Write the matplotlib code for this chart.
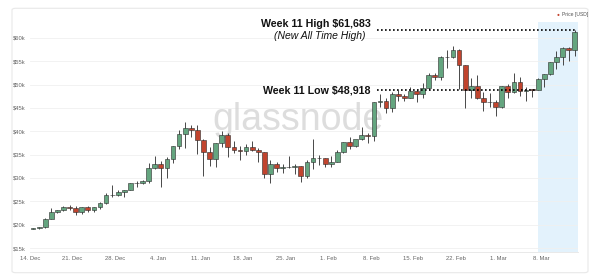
import pandas as pd
import matplotlib.pyplot as plt
import matplotlib.dates as mdates
from matplotlib.patches import FancyBboxPatch

# ------------------------------------------
# Data: BTC daily candles, 14 Dec 2020 - 13 Mar 2021
# ------------------------------------------

dates = pd.date_range("2020-12-14", "2021-03-13", freq="D")

opens = [19144, 19246, 19418, 21310, 22806, 23132, 23870, 23478, 22803, 23783,
         23241, 23736, 24665, 26437, 26273, 27039, 27373, 28857, 28983, 29393,
         32195, 33000, 32035, 34047, 36860, 39486, 40670, 40240, 38240, 35545,
         34012, 37393, 39145, 36742, 36026, 35800, 36631, 35891, 35468, 30850,
         32945, 32078, 32259, 32254, 32467, 30366, 33364, 34252, 34262, 33092,
         33526, 35466, 37618, 36936, 38290, 39186, 38903, 46196, 46481, 44918,
         47909, 47504, 47105, 48717, 47945, 49200, 52150, 51679, 55888, 55887,
         57412, 54204, 48824, 49705, 47093, 46339, 46188, 45137, 49631, 48378,
         50538, 48561, 48927, 48912, 51206, 52246, 54824, 56008, 57805, 57332]

highs = [19305, 19525, 21458, 23642, 23238, 24085, 24209, 24059, 23838, 24100,
         23768, 24789, 26867, 28422, 27389, 27371, 28937, 29298, 29601, 33300,
         34778, 33600, 34437, 36939, 40365, 41950, 41380, 41350, 38264, 36568,
         37600, 40100, 39700, 37950, 36852, 37299, 37850, 36415, 35600, 33826,
         33456, 32944, 34802, 32921, 32557, 33858, 38406, 34876, 34288, 34638,
         35896, 37662, 38708, 38225, 40846, 39700, 46203, 48003, 47145, 48463,
         48745, 48047, 49487, 49010, 50341, 52533, 52474, 56113, 57506, 58330,
         57534, 54204, 51359, 52041, 48370, 48253, 46716, 49791, 50128, 52535,
         51735, 49395, 49147, 51384, 52314, 54824, 57258, 58045, 58058, 61683]

lows = [19012, 19079, 19298, 21234, 22399, 22826, 23147, 22159, 22353, 22810,
        22777, 23463, 24500, 25856, 26207, 25987, 27360, 27969, 28804, 29029,
        31962, 28130, 29900, 33288, 36300, 36500, 38720, 35111, 30420, 32500,
        32450, 36700, 34408, 35357, 33850, 34883, 35844, 33400, 30071, 28850,
        31390, 31106, 32067, 30837, 29241, 30023, 31970, 32825, 32270, 32384,
        33418, 35363, 36161, 36658, 38215, 37446, 37998, 45166, 43881, 44187,
        46424, 46392, 47114, 46222, 47201, 48947, 50969, 50937, 53511, 55672,
        48967, 45000, 47214, 46939, 44454, 45269, 43241, 45042, 47228, 48274,
        47505, 46542, 47257, 48918, 49506, 51981, 53290, 54288, 55013, 56078]

closes = [19246, 19418, 21310, 22806, 23132, 23870, 23478, 22803, 23783, 23241,
          23736, 24665, 26437, 26273, 27039, 27373, 28857, 28983, 29393, 32195,
          33000, 32035, 34047, 36860, 39486, 40670, 40240, 38240, 35545, 34012,
          37393, 39145, 36742, 36026, 35800, 36631, 35891, 35468, 30850, 32945,
          32078, 32259, 32254, 32467, 30366, 33364, 34252, 34262, 33092, 33526,
          35466, 37618, 36936, 38290, 39186, 38903, 46196, 46481, 44918, 47909,
          47504, 47105, 48717, 47945, 49200, 52150, 51679, 55888, 55887, 57412,
          54204, 48824, 49705, 47093, 46339, 46188, 45137, 49631, 48378, 50538,
          48561, 48927, 48912, 51206, 52246, 54824, 56008, 57805, 57332, 61243]

week_high = 61683
week_low = 48918
week_start = pd.Timestamp("2021-03-07 12:00")
week_end = pd.Timestamp("2021-03-14")
tick_dates = pd.date_range("2020-12-14", "2021-03-08", freq="7D")
y_ticks = [15000, 20000, 25000, 30000, 35000, 40000, 45000, 50000, 55000, 60000]

# ------------------------------------------
# Style
# ------------------------------------------

plt.rcParams['font.family'] = ['Liberation Sans', 'DejaVu Sans']

green = "#64a57f"
red = "#c1442e"
edge = "#2b2b2b"

fig = plt.figure(figsize=(6, 2.76), dpi=100)
ax = fig.add_axes([0.05, 0.087, 0.913, 0.833])

# outer card frame
card = FancyBboxPatch((0.02, 0.012), 0.96, 0.958, boxstyle="round,pad=0,rounding_size=0.006",
                      transform=fig.transFigure, facecolor="white", edgecolor="#e8e8e8",
                      linewidth=0.8, zorder=-10)
fig.patches.append(card)

# ------------------------------------------
# Candles
# ------------------------------------------

x = mdates.date2num(dates) + 0.5
colors = [green if c >= o else red for o, c in zip(opens, closes)]
bottoms = [min(o, c) for o, c in zip(opens, closes)]
heights = [max(abs(c - o), 80) for o, c in zip(opens, closes)]

ax.vlines(x, lows, highs, color=edge, linewidth=0.6, zorder=2)
ax.bar(x, heights, bottom=bottoms, width=0.78, color=colors,
       edgecolor=edge, linewidth=0.4, zorder=3)

# highlighted week
ax.axvspan(mdates.date2num(week_start), mdates.date2num(week_end),
           color="#e3f2fc", zorder=0, linewidth=0)

# watermark
ax.text(0.49, 0.575, "glassnode", transform=ax.transAxes, ha="center", va="center",
        fontsize=27, color="#d2d2d2", alpha=0.75, zorder=1)

# ------------------------------------------
# Annotations
# ------------------------------------------

ax.axhline(week_high, xmin=0.633, xmax=0.995, color="black",
           linestyle=(0, (1, 1.4)), linewidth=1.2, zorder=4)
ax.axhline(week_low, xmin=0.633, xmax=0.925, color="black",
           linestyle=(0, (1, 1.4)), linewidth=1.2, zorder=4)

ax.text(0.622, 63000, "Week 11 High $61,683", transform=ax.get_yaxis_transform(),
        ha="right", va="center", fontsize=7.7, fontweight="bold", color="#111111")
ax.text(0.612, 60400, "(New All Time High)", transform=ax.get_yaxis_transform(),
        ha="right", va="center", fontsize=7.5, fontstyle="italic", color="#111111")
ax.text(0.622, 48700, "Week 11 Low $48,918", transform=ax.get_yaxis_transform(),
        ha="right", va="center", fontsize=7.7, fontweight="bold", color="#111111")

# legend
fig.text(0.933, 0.946, "\u25cf", color="#c4452f", fontsize=3.5, ha="right", va="center")
fig.text(0.936, 0.946, "Price [USD]", color="#555555", fontsize=3.6, ha="left", va="center")

# ------------------------------------------
# Axes
# ------------------------------------------

ax.set_xlim(mdates.date2num(pd.Timestamp("2020-12-14")), mdates.date2num(week_end))
ax.set_ylim(14150, 63400)

ax.set_yticks(y_ticks)
ax.set_yticklabels(["$%dk" % (v // 1000) for v in y_ticks])
ax.set_xticks(mdates.date2num(tick_dates))
ax.set_xticklabels([d.strftime("%-d. %b") for d in tick_dates])

ax.tick_params(axis="both", length=0, labelsize=4.2, labelcolor="#666666")
ax.tick_params(axis="x", pad=3)
ax.tick_params(axis="y", pad=3)
ax.grid(axis="y", color="#f0f0f0", linewidth=0.6, zorder=0)
ax.set_axisbelow(True)

for side in ["top", "right", "left"]:
    ax.spines[side].set_visible(False)
ax.spines["bottom"].set_color("#e5e5e5")
ax.spines["bottom"].set_linewidth(0.6)

plt.savefig("out.png", dpi=100)
